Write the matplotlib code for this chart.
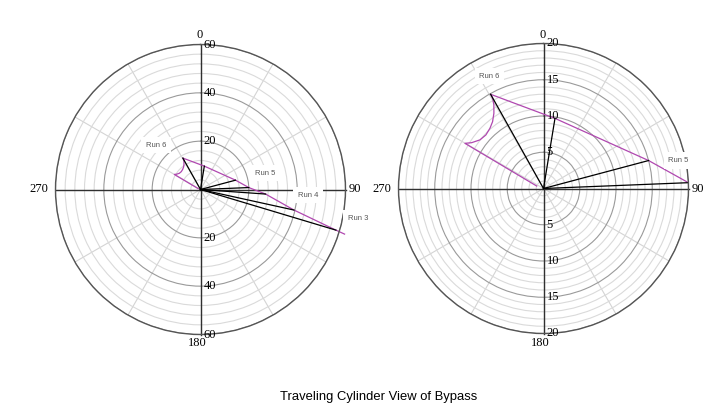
import numpy as np
import matplotlib
matplotlib.use('Agg')
import matplotlib.pyplot as plt

# ---------------- data ----------------
# offset-well trajectory (magenta): separation radius and bearing in degrees (0 = top, clockwise)
traj_r = [1.0, 12.5, 11.76, 11.04, 10.85, 11.12, 11.59, 12.43, 13.41, 14.3, 14.9,
          9.8, 15.0, 20.0, 27.0, 39.6, 58.5, 62.4]
traj_deg = [290.0, 299.9, 302.5, 307.4, 312.9, 318.4, 322.7, 326.6, 329.3, 330.6, 330.7,
            9.3, 75.1, 87.7, 94.0, 102.4, 106.7, 107.2]

# run lines (black) from the centre
run_r = [14.9, 9.8, 15.0, 20.0, 27.0, 39.6, 58.5]
run_deg = [330.7, 9.3, 75.1, 87.7, 94.0, 102.4, 106.7]
run_labels = ['Run 6', '', 'Run 5', '', '', 'Run 4', 'Run 3']

# chart settings
left_max, left_major, left_minor = 60, [20, 40, 60], 4
right_max, right_major, right_minor = 20, [5, 10, 15, 20], 1
theta_labels = ['0', '90', '180', '270']
title = 'Traveling Cylinder View of Bypass'

# label offsets (pixels) per chart
left_label_off = {'Run 6': (-27, 13), 'Run 5': (30, 7), 'Run 4': (14, 15), 'Run 3': (22, 12)}
right_label_off = {'Run 6': (-1, 18), 'Run 5': (30, 0)}

W, H = 710, 416
fig = plt.figure(figsize=(W / 100, H / 100), dpi=100)
fig.patch.set_facecolor('white')

SERIF = ['Liberation Serif', 'DejaVu Serif']
SANS = ['Liberation Sans', 'DejaVu Sans']


def make_polar(rect, rmax, majors, minor_step, label_off, clip_traj):
    ax = fig.add_axes(rect, projection='polar')
    ax.set_theta_zero_location('N')
    ax.set_theta_direction(-1)
    ax.set_ylim(0, rmax)
    ax.set_facecolor('white')

    ax.set_yticks(majors)
    ax.set_yticklabels([])
    minors = [v for v in np.arange(minor_step, rmax + 1e-9, minor_step) if v not in majors]
    ax.set_yticks(minors, minor=True)
    ax.set_xticks(np.deg2rad(np.arange(0, 360, 30)))
    ax.set_xticklabels([])
    ax.tick_params(which='both', length=0)
    ax.yaxis.grid(True, which='major', color='#9a9a9a', lw=0.8)
    ax.yaxis.grid(True, which='minor', color='#dadada', lw=0.8)
    ax.xaxis.grid(True, color='#d4d4d4', lw=0.8)
    ax.spines['polar'].set_color('#555555')
    ax.spines['polar'].set_linewidth(1.0)

    # main cross axes (0-180, 90-270)
    for a in [0, 90, 180, 270]:
        t = np.deg2rad(a)
        ax.plot([t, t], [0, rmax], color='#303030', lw=1.0, zorder=1.9, clip_on=False)

    # trajectory
    ax.plot(np.deg2rad(traj_deg), traj_r, color='#b048b0', lw=0.9, zorder=2,
            clip_on=clip_traj)
    # run lines
    for r, d, lab in zip(run_r, run_deg, run_labels):
        if r > rmax:
            continue
        t = np.deg2rad(d)
        ax.plot([t, t], [0, r], color='black', lw=0.9, zorder=2.2)
        if lab and lab in label_off:
            ax.annotate(lab, xy=(t, r), xytext=label_off[lab], textcoords='offset pixels',
                        ha='center', va='center', fontsize=5.5, family=SANS, color='#555555',
                        zorder=5,
                        bbox=dict(boxstyle='square,pad=0.6', fc='white', ec='none'))

    # radial labels on both sides of the vertical axis
    for m in majors:
        for a in (0, np.pi):
            ax.annotate(str(m), xy=(a, m), xytext=(3, 0), textcoords='offset pixels',
                        ha='left', va='center', fontsize=9, family=SERIF, color='black',
                        annotation_clip=False, zorder=6)
    # angle labels
    ax.annotate(theta_labels[0], xy=(0.5, 1.0), xycoords='axes fraction', xytext=(-1, 9),
                textcoords='offset pixels', ha='center', va='center', fontsize=9, family=SERIF)
    ax.annotate(theta_labels[1], xy=(1.0, 0.5), xycoords='axes fraction', xytext=(3, 0),
                textcoords='offset pixels', ha='left', va='center', fontsize=9, family=SERIF)
    ax.annotate(theta_labels[2], xy=(0.5, 0.0), xycoords='axes fraction', xytext=(-3, -9),
                textcoords='offset pixels', ha='center', va='center', fontsize=9, family=SERIF)
    ax.annotate(theta_labels[3], xy=(0.0, 0.5), xycoords='axes fraction', xytext=(-7, 0),
                textcoords='offset pixels', ha='right', va='center', fontsize=9, family=SERIF)
    return ax


R = 145
lc = (200.5, 189.5)
rc = (543.5, 188.5)
rect_l = [(lc[0] - R) / W, (H - lc[1] - R) / H, 2 * R / W, 2 * R / H]
rect_r = [(rc[0] - R) / W, (H - rc[1] - R) / H, 2 * R / W, 2 * R / H]

make_polar(rect_l, left_max, left_major, left_minor, left_label_off, False)
make_polar(rect_r, right_max, right_major, right_minor, right_label_off, True)

fig.text(378.4 / W, 1 - 397 / H, title, ha='center', va='center', fontsize=9.4,
         family=SANS, color='black')

fig.savefig('out.png', dpi=100, facecolor='white')
